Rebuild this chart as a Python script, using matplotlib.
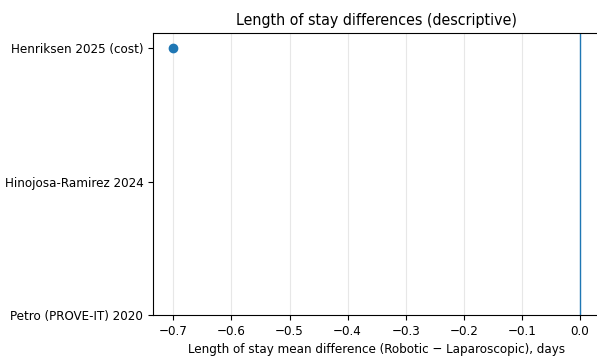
import matplotlib
matplotlib.use("Agg")
import matplotlib.pyplot as plt
import numpy as np

studies = ["Petro (PROVE-IT) 2020", "Hinojosa-Ramirez 2024", "Henriksen 2025 (cost)"]
los_diff = [np.nan, np.nan, -0.7]


def main():
    plt.rcParams["font.family"] = ["DejaVu Sans"]
    plt.rcParams["font.stretch"] = "condensed"
    plt.rcParams["font.size"] = 9.5

    fig = plt.figure(figsize=(5.97, 3.62), dpi=100)
    ax = fig.add_axes([153 / 597, 1 - 315 / 362, (600.3 - 153) / 597, (315 - 33) / 362])

    y = np.arange(len(studies))
    ax.plot(los_diff, y, "o", color="tab:blue", markersize=6)
    ax.axvline(0, color="tab:blue", linewidth=1)

    ax.set_yticks(y)
    ax.set_yticklabels(studies)
    ax.set_xlim(-0.735, 0.035)
    ax.set_ylim(0, 2.113)
    ax.set_xticks(np.arange(-0.7, 0.01, 0.1))
    ax.grid(axis="x", alpha=0.3)
    ax.set_xlabel("Length of stay mean difference (Robotic \u2212 Laparoscopic), days")
    ax.set_title("Length of stay differences (descriptive)", fontsize=11.4)

    fig.savefig("out.png", dpi=100)
    plt.close(fig)


if __name__ == "__main__":
    main()
